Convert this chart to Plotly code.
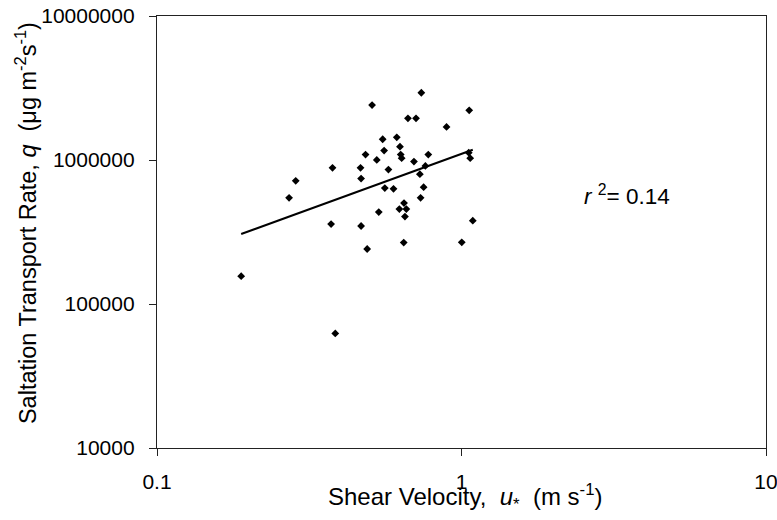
import plotly.graph_objects as go

# Shear velocity u* (m s^-1) and saltation transport rate q (ug m^-2 s^-1)
shear_velocity = [0.189, 0.2715, 0.2855, 0.377, 0.373, 0.466, 0.468, 0.468, 0.490, 0.484,
                  0.5085, 0.527, 0.535, 0.551, 0.557, 0.560, 0.5755, 0.598, 0.613, 0.628,
                  0.6315, 0.636, 0.625, 0.6475, 0.659, 0.652, 0.646, 0.667, 0.709, 0.738,
                  0.698, 0.730, 0.751, 0.734, 0.761, 0.778, 0.893, 1.060, 1.068, 1.056,
                  1.089, 1.002, 0.385]
transport_rate = [156000, 546000, 717000, 882000, 359000, 882000, 743000, 348000, 241000, 1090000,
                  2407000, 1002000, 435000, 1393000, 1162000, 638000, 858000, 631000, 1438000, 1238000,
                  1090000, 1029000, 456000, 502000, 456000, 405000, 267000, 1948000, 1948000, 2930000,
                  975000, 797000, 648000, 546000, 910000, 1090000, 1696000, 2213000, 1029000, 1125000,
                  379000, 268000, 62500]

# Power-law fit line
trend_x = [0.189, 1.089]
trend_y = [306000, 1179000]

x_tickvals = [0.1, 1, 10]
x_ticktext = ["0.1", "1", "10"]
y_tickvals = [1e4, 1e5, 1e6, 1e7]
y_ticktext = ["10000", "100000", "1000000", "10000000"]

FONT = "Liberation Sans, Arial, sans-serif"

fig = go.Figure()
fig.add_trace(go.Scatter(x=trend_x, y=trend_y, mode="lines",
                         line=dict(color="black", width=2), showlegend=False))
fig.add_trace(go.Scatter(x=shear_velocity, y=transport_rate, mode="markers",
                         marker=dict(symbol="diamond", size=6, color="black"),
                         showlegend=False))

axis_common = dict(showgrid=False, zeroline=False, showline=True, mirror=True,
                   linecolor="#222", linewidth=1.3, ticks="outside", ticklen=7,
                   tickcolor="#222", tickwidth=1, automargin=False,
                   ticklabeloverflow="allow",
                   tickfont=dict(family=FONT, size=21, color="black"))

fig.update_xaxes(type="log", range=[-1, 1], tickvals=x_tickvals, ticktext=x_ticktext,
                 ticklabelstandoff=8, **axis_common)
fig.update_yaxes(type="log", range=[4, 7], tickvals=y_tickvals, ticktext=y_ticktext,
                 ticklabelstandoff=10, **axis_common)

fig.add_annotation(text="Shear Velocity,  <i>u</i><sub>*</sub>  (m s<sup>-1</sup>)",
                   xref="paper", yref="paper", x=0.5057, y=-0.113,
                   xanchor="center", yanchor="middle", showarrow=False,
                   font=dict(family=FONT, size=24, color="black"))
fig.add_annotation(text="Saltation Transport Rate, <i>q</i>  (μg m<sup>-2</sup>s<sup>-1</sup>)",
                   xref="paper", yref="paper", x=-0.2150, y=0.5208, textangle=-90,
                   xanchor="center", yanchor="middle", showarrow=False,
                   font=dict(family=FONT, size=23.5, color="black"))
fig.add_annotation(text="<i>r</i> <sup>2</sup>= 0.14",
                   xref="paper", yref="paper", x=0.6975, y=0.5856,
                   xanchor="left", yanchor="middle", showarrow=False,
                   font=dict(family=FONT, size=22.5, color="black"))

fig.update_layout(width=777, height=520, plot_bgcolor="white", paper_bgcolor="white",
                  margin=dict(l=157, r=11, t=16, b=72, autoexpand=False))

fig.write_html("out.html", config={"displayModeBar": False},
               post_script="document.body.style.margin='0';")
